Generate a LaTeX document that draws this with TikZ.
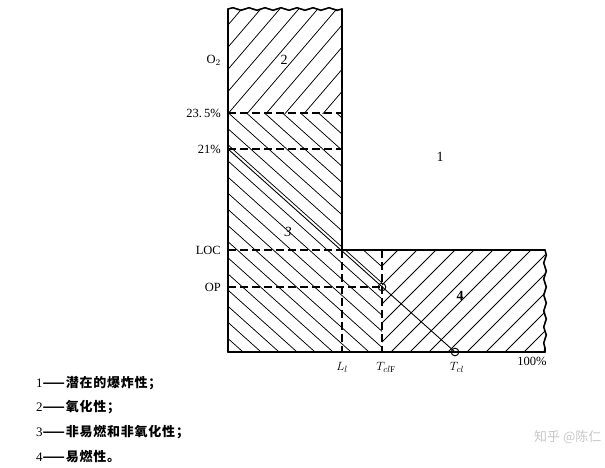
\documentclass[tikz,border=0pt]{standalone}
\usepackage{fontspec}
\setmainfont{Liberation Serif}
\newfontfamily\cjk{Noto Sans CJK SC}
\newfontfamily\cjkleg[LetterSpace=6]{Noto Sans CJK SC}
\usetikzlibrary{decorations.pathmorphing}
\tikzset{
  edge/.style={line width=1.6pt, line cap=round},
  dashline/.style={dashed, dash pattern=on 8pt off 4pt, line width=1.1pt},
  hatch/.style={line width=0.75pt},
  lab/.style={font=\fontsize{12.5}{14}\selectfont, inner sep=1pt},
  reg/.style={font=\fontsize{14}{15}\selectfont, inner sep=1pt},
  leg/.style={font=\cjkleg\bfseries\fontsize{13}{15}\selectfont, anchor=west, inner sep=0pt},
  wave/.style={decorate, decoration={snake, amplitude=1.3pt, segment length=16pt}}
}
\begin{document}
\begin{tikzpicture}[x=1pt,y=-1pt]
\useasboundingbox (0,0) rectangle (605,467);
% key coordinates
\coordinate (TL) at (228,9);
\coordinate (TR) at (342,9);
\coordinate (A) at (228,113);
\coordinate (B) at (342,113);
\coordinate (C21) at (228,149);
\coordinate (D21) at (342,149);
\coordinate (LOCl) at (228,250);
\coordinate (Kn) at (342,250);
\coordinate (F) at (382,250);
\coordinate (RT) at (545,250);
\coordinate (RB) at (545,352);
\coordinate (BL) at (228,352);
\coordinate (LL) at (342,352);
\coordinate (FB) at (382,352);
\coordinate (OPl) at (228,287);
\coordinate (P) at (382,287);
\coordinate (Tcl) at (455,352);
% hatching region 2 (/)
\begin{scope}
\clip (TL) -- (TR) -- (B) -- (A) -- cycle;
\foreach \a in {100,119,...,500} \draw[hatch] (\a,130) -- ++(120,-140);
\end{scope}
% hatching region 3 (\)
\begin{scope}
\clip (A) -- (B) -- (Kn) -- (F) -- (FB) -- (BL) -- cycle;
\foreach \a in {-200,-182,...,500} \draw[hatch] (\a,100) -- ++(290,260);
\end{scope}
% hatching region 4 (/)
\begin{scope}
\clip (F) -- (RT) -- (RB) -- (FB) -- cycle;
\foreach \a in {250,269,...,700} \draw[hatch] (\a,360) -- ++(120,-120);
\end{scope}
% outline
\draw[edge] (BL) -- (TL);
\draw[edge, wave] (TL) -- (TR);
\draw[edge] (TR) -- (Kn) -- (RT);
\draw[edge, wave] (RT) -- (RB);
\draw[edge] (BL) -- (RB);
% dashed lines
\draw[dashline] (A) -- (B);
\draw[dashline] (C21) -- (D21);
\draw[dashline] (LOCl) -- (Kn);
\draw[dashline] (OPl) -- (P);
\draw[dashline] (Kn) -- (LL);
\draw[dashline] (F) -- (FB);
% diagonal
\draw[line width=0.9pt] (C21) -- (Tcl);
\draw[line width=1pt] (P) circle (3.8);
\draw[line width=1pt] (Tcl) circle (3.8);
% left labels
\node[lab, anchor=east] (lo2) at (222,60) {O$_2$};
\node[lab, anchor=east] (l235) at (222,113) {23.\,5\%};
\node[lab, anchor=east] (l21) at (222,149) {21\%};
\node[lab, anchor=east] (lloc) at (222,250) {LOC};
\node[lab, anchor=east] (lop) at (222,287) {OP};
% region labels
\node[reg] (r1) at (440,157) {1};
\node[reg] (r2) at (284,60) {2};
\node[reg] (r3) at (288,232) {\itshape 3};
\node[reg, font=\bfseries\fontsize{14}{15}\selectfont] (r4) at (460,296) {4};
% bottom labels
\node[lab] (bl) at (342,367) {$L_l$};
\node[lab] (bf) at (386,367) {$T_{cl\mathrm{F}}$};
\node[lab] (bt) at (457,367) {$T_{cl}$};
\node[lab] (b100) at (532,361) {100\%};
% legend
\node[leg] (g1) at (36,383) {{\rmfamily\mdseries 1}——潜在的爆炸性；};
\node[leg] (g2) at (36,407) {{\rmfamily\mdseries 2}——氧化性；};
\node[leg] (g3) at (36,432) {{\rmfamily\mdseries 3}——非易燃和非氧化性；};
\node[leg] (g4) at (36,457) {{\rmfamily\mdseries 4}——易燃性。};
% watermark
\node[font=\cjk\fontsize{13}{14}\selectfont, text=black!22, anchor=west, inner sep=0pt] (wm) at (534,437) {知乎 @陈仁};
\end{tikzpicture}
\end{document}
